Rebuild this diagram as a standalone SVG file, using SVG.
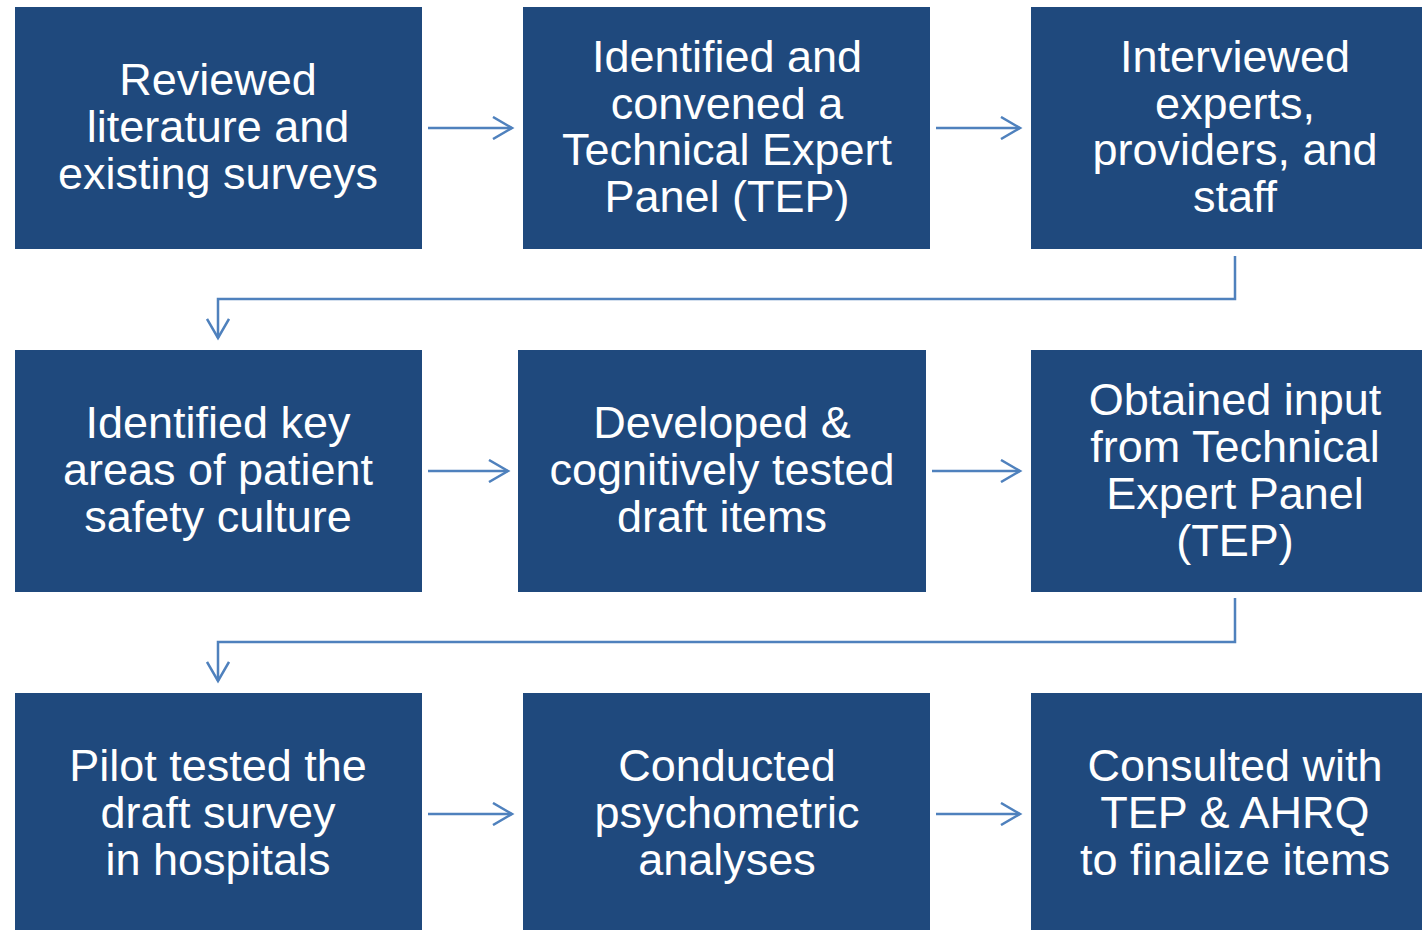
<svg xmlns="http://www.w3.org/2000/svg" width="1422" height="930" viewBox="0 0 1422 930">
<defs>
<style>
.box{fill:#1F497D;}
.t{fill:#FFFFFF;font-family:"Liberation Sans",Arial,sans-serif;font-size:45px;text-anchor:middle;}
.c{fill:none;stroke:#4F81BD;stroke-width:2.5;}
</style>
<marker id="ah" viewBox="0 0 24 24" refX="20" refY="12" markerWidth="24" markerHeight="24" markerUnits="userSpaceOnUse" orient="auto">
<path d="M1,1 L20,12 L1,23" fill="none" stroke="#4F81BD" stroke-width="2.5"/>
</marker>
</defs>
<rect width="1422" height="930" fill="#FFFFFF"/>
<g id="n1"><rect class="box" x="15" y="7" width="407" height="242"/>
<text class="t" x="218" y="95">Reviewed</text><text class="t" x="218" y="142">literature and</text><text class="t" x="218" y="189">existing surveys</text></g>
<g id="n2"><rect class="box" x="523" y="7" width="407" height="242"/>
<text class="t" x="727" y="72">Identified and</text><text class="t" x="727" y="119">convened a</text><text class="t" x="727" y="165">Technical Expert</text><text class="t" x="727" y="212">Panel (TEP)</text></g>
<g id="n3"><rect class="box" x="1031" y="7" width="400" height="242"/>
<text class="t" x="1235" y="72">Interviewed</text><text class="t" x="1235" y="119">experts,</text><text class="t" x="1235" y="165">providers, and</text><text class="t" x="1235" y="212">staff</text></g>
<g id="n4"><rect class="box" x="15" y="350" width="407" height="242"/>
<text class="t" x="218" y="438">Identified key</text><text class="t" x="218" y="485">areas of patient</text><text class="t" x="218" y="532">safety culture</text></g>
<g id="n5"><rect class="box" x="518" y="350" width="408" height="242"/>
<text class="t" x="722" y="438">Developed &amp;</text><text class="t" x="722" y="485">cognitively tested</text><text class="t" x="722" y="532">draft items</text></g>
<g id="n6"><rect class="box" x="1031" y="350" width="400" height="242"/>
<text class="t" x="1235" y="415">Obtained input</text><text class="t" x="1235" y="462">from Technical</text><text class="t" x="1235" y="509">Expert Panel</text><text class="t" x="1235" y="556">(TEP)</text></g>
<g id="n7"><rect class="box" x="15" y="693" width="407" height="245"/>
<text class="t" x="218" y="781">Pilot tested the</text><text class="t" x="218" y="828">draft survey</text><text class="t" x="218" y="875">in hospitals</text></g>
<g id="n8"><rect class="box" x="523" y="693" width="407" height="245"/>
<text class="t" x="727" y="781">Conducted</text><text class="t" x="727" y="828">psychometric</text><text class="t" x="727" y="875">analyses</text></g>
<g id="n9"><rect class="box" x="1031" y="693" width="400" height="245"/>
<text class="t" x="1235" y="781">Consulted with</text><text class="t" x="1235" y="828">TEP &amp; AHRQ</text><text class="t" x="1235" y="875">to finalize items</text></g>
<g id="connectors">
<path class="c" d="M428,128 H512" marker-end="url(#ah)"/>
<path class="c" d="M936,128 H1020" marker-end="url(#ah)"/>
<path class="c" d="M1235,256 V299 H218 V338" marker-end="url(#ah)"/>
<path class="c" d="M428,471 H508" marker-end="url(#ah)"/>
<path class="c" d="M932,471 H1020" marker-end="url(#ah)"/>
<path class="c" d="M1235,598 V642 H218 V681" marker-end="url(#ah)"/>
<path class="c" d="M428,814 H512" marker-end="url(#ah)"/>
<path class="c" d="M936,814 H1020" marker-end="url(#ah)"/>
</g>
</svg>
